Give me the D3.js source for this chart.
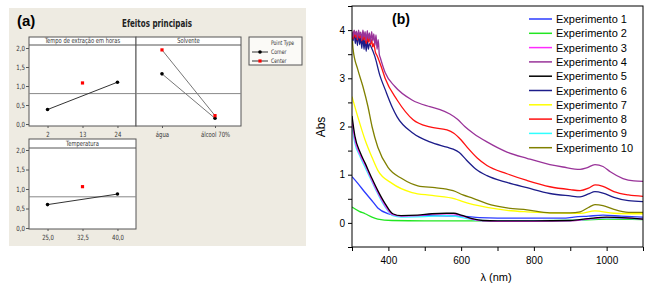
<!DOCTYPE html>
<html>
<head>
<meta charset="utf-8">
<script src="https://cdn.jsdelivr.net/npm/d3@7"></script>
<style>
  body { margin: 0; background: #fff; }
  .narrow { font-family: "DejaVu Sans Condensed", "DejaVu Sans", sans-serif; font-stretch: condensed; }
  .arial { font-family: "Liberation Sans", Arial, sans-serif; }
</style>
</head>
<body>
<svg id="chart" width="649" height="291"></svg>
<script>
// ---- panel (a) data: main effects plot ----
const tituloA = 'Efeitos principais';
const mediaGeral = 0.8;
const yTicksA = [0, 0.5, 1, 1.5, 2];
const niveisTempo = ['2', '13', '24'];
const cornerTempo = [0.38, null, 1.1];
const centerTempo = [null, 1.08, null];
const niveisSolv = ['água', 'álcool 70%'];
const cornerSolv = [1.32, 0.15];
const centerSolv = [1.95, 0.22];
const niveisTemp = ['25,0', '32,5', '40,0'];
const cornerTemp = [0.6, null, 0.87];
const centerTemp = [null, 1.06, null];

// ---- panel (b) data: absorption spectra (lambda nm, Abs) ----
const exp1 = [[300,0.96],[316,0.82],[336,0.63],[355,0.46],[371,0.31],[399,0.19],[426,0.15],[500,0.15],[600,0.14],[650,0.11],[700,0.1],[800,0.1],[880,0.1],[910,0.12],[950,0.14],[990,0.16],[1040,0.14],[1100,0.12]];
const exp2 = [[300,0.33],[320,0.24],[336,0.19],[355,0.12],[371,0.08],[410,0.05],[500,0.04],[700,0.04],[900,0.05],[1000,0.08],[1100,0.07]];
const exp3 = [[300,2.12],[308,1.72],[322,1.42],[336,1.2],[355,0.88],[371,0.63],[391,0.36],[412,0.17],[435,0.14],[480,0.15],[520,0.18],[560,0.19],[580,0.19],[600,0.15],[630,0.08],[660,0.04],[700,0.03],[800,0.03],[900,0.04],[950,0.08],[1000,0.11],[1100,0.08]];
const exp4 = [[300,3.97],[303,3.86],[306,4.0],[309,3.9],[312,3.98],[315,3.83],[318,4.0],[321,3.88],[324,3.96],[327,3.8],[330,4.0],[333,3.85],[336,3.97],[339,3.78],[342,3.99],[345,3.82],[348,3.94],[351,3.74],[354,3.97],[357,3.78],[360,3.92],[363,3.68],[366,3.9],[369,3.6],[372,3.8],[375,3.5],[378,3.42],[391,3.12],[418,2.83],[465,2.55],[514,2.41],[542,2.35],[569,2.26],[590,2.15],[610,2.0],[635,1.85],[671,1.68],[726,1.47],[781,1.34],[844,1.21],[880,1.16],[927,1.11],[945,1.14],[968,1.21],[990,1.17],[1010,1.06],[1045,0.92],[1075,0.87],[1100,0.86]];
const exp5 = [[300,2.22],[308,1.8],[322,1.47],[336,1.24],[355,0.92],[371,0.67],[391,0.4],[412,0.19],[435,0.15],[480,0.16],[520,0.19],[560,0.2],[580,0.2],[600,0.16],[630,0.09],[660,0.05],[700,0.04],[800,0.04],[900,0.05],[950,0.09],[1000,0.12],[1100,0.08]];
const exp6 = [[300,3.93],[303,3.78],[306,3.97],[309,3.72],[312,3.9],[315,3.68],[318,3.95],[321,3.7],[324,3.86],[327,3.62],[330,3.9],[333,3.6],[336,3.84],[339,3.56],[342,3.8],[345,3.6],[348,3.72],[352,3.66],[363,3.45],[377,3.05],[391,2.77],[410,2.41],[424,2.2],[468,1.86],[514,1.68],[561,1.57],[578,1.53],[595,1.46],[615,1.3],[640,1.12],[671,0.98],[726,0.84],[781,0.73],[844,0.61],[900,0.56],[927,0.54],[950,0.6],[968,0.65],[990,0.62],[1020,0.53],[1060,0.46],[1100,0.44]];
const exp7 = [[300,2.62],[316,2.2],[336,1.72],[355,1.36],[371,1.09],[410,0.82],[465,0.63],[520,0.57],[583,0.5],[605,0.44],[671,0.32],[726,0.26],[781,0.23],[844,0.21],[927,0.2],[968,0.25],[1020,0.2],[1100,0.19]];
const exp8 = [[300,3.95],[303,3.82],[306,3.98],[309,3.85],[312,3.93],[315,3.8],[318,3.97],[321,3.84],[324,3.9],[327,3.78],[330,3.95],[333,3.8],[336,3.88],[339,3.72],[342,3.9],[345,3.75],[348,3.85],[351,3.7],[354,3.8],[357,3.65],[360,3.72],[364,3.55],[369,3.47],[380,3.25],[391,3.0],[424,2.55],[468,2.14],[514,1.99],[561,1.93],[580,1.86],[600,1.72],[620,1.54],[645,1.34],[671,1.19],[726,1.02],[781,0.88],[844,0.75],[900,0.69],[927,0.67],[950,0.72],[968,0.79],[990,0.76],[1020,0.65],[1060,0.58],[1100,0.55]];
const exp9 = [[300,2.0],[308,1.65],[322,1.38],[336,1.15],[355,0.85],[371,0.6],[391,0.33],[412,0.15],[435,0.12],[500,0.13],[560,0.15],[610,0.1],[650,0.05],[700,0.04],[900,0.05],[1000,0.1],[1100,0.08]];
const exp10 = [[300,3.95],[303,3.6],[316,3.18],[330,2.83],[344,2.41],[355,2.0],[371,1.57],[399,1.15],[437,0.92],[481,0.77],[528,0.73],[560,0.7],[578,0.67],[605,0.58],[633,0.51],[671,0.4],[726,0.31],[781,0.27],[844,0.21],[900,0.21],[927,0.23],[950,0.32],[968,0.38],[990,0.36],[1020,0.28],[1060,0.22],[1100,0.22]];

const nomes = ['Experimento 1','Experimento 2','Experimento 3','Experimento 4','Experimento 5',
               'Experimento 6','Experimento 7','Experimento 8','Experimento 9','Experimento 10'];
const cores = ['#2b3bff','#22e622','#ff2bff','#993399','#000000',
               '#1c1c8a','#ffff00','#ff1010','#30ffff','#808000'];
const espectros = [exp1, exp2, exp3, exp4, exp5, exp6, exp7, exp8, exp9, exp10];
const ordemDesenho = [0, 1, 8, 2, 4, 6, 9, 5, 7, 3];
const xTicksB = [300, 400, 500, 600, 700, 800, 900, 1000, 1100];
const yTicksB = [-0.5, 0, 0.5, 1, 1.5, 2, 2.5, 3, 3.5, 4, 4.5];

const svg = d3.select('#chart');

// squeeze the condensed text like the narrow Minitab font
const squeeze = (sel, k) => sel.each(function () {
  const w = this.getComputedTextLength();
  d3.select(this).attr('textLength', w * k).attr('lengthAdjust', 'spacingAndGlyphs');
});

// ================= panel (a) =================
const ga = svg.append('g');
ga.append('rect')
  .attr('x', 9).attr('y', 8).attr('width', 297).attr('height', 238)
  .attr('fill', '#eeebe2');

ga.append('text')
  .attr('class', 'arial')
  .attr('x', 17).attr('y', 26)
  .attr('font-size', 15).attr('font-weight', 'bold')
  .text('(a)');

ga.append('text')
  .attr('class', 'narrow')
  .attr('x', 157).attr('y', 27)
  .attr('text-anchor', 'middle')
  .attr('font-size', 10.5).attr('font-weight', 'bold')
  .attr('fill', '#222')
  .text(tituloA)
  .attr('textLength', 70).attr('lengthAdjust', 'spacingAndGlyphs');

const drawFactor = (cfg) => {
  const g = ga.append('g');
  const x = d3.scalePoint().domain(cfg.niveis).range([cfg.left, cfg.right]).padding(cfg.pad);
  const y = d3.scaleLinear().domain([0, 2]).range([cfg.y0, cfg.y2]);

  g.append('rect')
    .attr('x', cfg.left).attr('y', cfg.headTop)
    .attr('width', cfg.right - cfg.left).attr('height', cfg.bottom - cfg.headTop)
    .attr('fill', '#fff').attr('stroke', '#555').attr('stroke-width', 1);
  g.append('line')
    .attr('x1', cfg.left).attr('x2', cfg.right)
    .attr('y1', cfg.plotTop).attr('y2', cfg.plotTop)
    .attr('stroke', '#555');
  g.append('text')
    .attr('class', 'narrow')
    .attr('x', (cfg.left + cfg.right) / 2).attr('y', cfg.plotTop - 1.8)
    .attr('text-anchor', 'middle').attr('font-size', 7.2).attr('fill', '#333')
    .text(cfg.titulo)
    .call(squeeze, 0.8);

  // overall mean reference line
  g.append('line')
    .attr('x1', cfg.left).attr('x2', cfg.right)
    .attr('y1', y(mediaGeral)).attr('y2', y(mediaGeral))
    .attr('stroke', '#888');

  if (cfg.yAxis) {
    const yAxis = d3.axisLeft(y).tickValues(yTicksA).tickSize(3).tickPadding(1)
      .tickFormat(d => d3.format('.1f')(d).replace('.', ','));
    const ya = g.append('g').attr('transform', `translate(${cfg.left},0)`).call(yAxis);
    ya.select('.domain').remove();
    ya.selectAll('line').attr('stroke', '#555');
    ya.selectAll('text').attr('class', 'narrow').attr('font-size', 7.2).attr('fill', '#333').call(squeeze, 0.85);
  }
  const xAxis = d3.axisBottom(x).tickSize(2).tickPadding(4);
  const xa = g.append('g').attr('transform', `translate(0,${cfg.bottom})`).call(xAxis);
  xa.select('.domain').remove();
  xa.selectAll('line').attr('stroke', '#555');
  xa.selectAll('text').attr('class', 'narrow').attr('font-size', 7.2).attr('fill', '#333').call(squeeze, 0.82);

  const pts = (vals) => cfg.niveis.map((n, i) => [n, vals[i]]).filter(d => d[1] !== null);
  const linha = d3.line().x(d => x(d[0])).y(d => y(d[1]));
  const corner = pts(cfg.corner), center = pts(cfg.center);
  if (corner.length > 1) g.append('path').attr('d', linha(corner)).attr('fill', 'none')
    .attr('stroke', cfg.corLinha).attr('stroke-width', 1);
  if (center.length > 1) g.append('path').attr('d', linha(center)).attr('fill', 'none')
    .attr('stroke', cfg.corLinha).attr('stroke-width', 1);
  g.selectAll('circle.c').data(corner).enter().append('circle')
    .attr('cx', d => x(d[0])).attr('cy', d => y(d[1])).attr('r', 1.8).attr('fill', '#000');
  g.selectAll('rect.ct').data(center).enter().append('rect')
    .attr('x', d => x(d[0]) - 1.6).attr('y', d => y(d[1]) - 1.6)
    .attr('width', 3.2).attr('height', 3.2).attr('fill', '#ff0000');
};

drawFactor({ titulo: 'Tempo de extração em horas', niveis: niveisTempo, corner: cornerTempo, center: centerTempo,
  left: 29, right: 136, headTop: 37, plotTop: 45, bottom: 126, y0: 124, y2: 48, pad: 0.53, yAxis: true, corLinha: '#333' });
drawFactor({ titulo: 'Solvente', niveis: niveisSolv, corner: cornerSolv, center: centerSolv,
  left: 136, right: 241, headTop: 37, plotTop: 45, bottom: 126, y0: 124, y2: 48, pad: 0.49, yAxis: false, corLinha: '#777' });
drawFactor({ titulo: 'Temperatura', niveis: niveisTemp, corner: cornerTemp, center: centerTemp,
  left: 29, right: 136, headTop: 139, plotTop: 148, bottom: 229, y0: 228, y2: 150, pad: 0.53, yAxis: true, corLinha: '#333' });

// legend (a)
const la = ga.append('g');
la.append('rect').attr('x', 249).attr('y', 37).attr('width', 53).attr('height', 28)
  .attr('fill', '#fbfaf7').attr('stroke', '#555');
la.append('text').attr('class', 'narrow').attr('x', 271).attr('y', 45)
  .attr('font-size', 6.2).attr('fill', '#333').text('Point Type').call(squeeze, 0.82);
[['Corner', '#000'], ['Center', '#ff0000']].forEach((d, i) => {
  const yy = 52 + i * 9;
  la.append('line').attr('x1', 252).attr('x2', 268).attr('y1', yy).attr('y2', yy).attr('stroke', '#333');
  if (i === 0) la.append('circle').attr('cx', 260).attr('cy', yy).attr('r', 1.8).attr('fill', d[1]);
  else la.append('rect').attr('x', 258.4).attr('y', yy - 1.6).attr('width', 3.2).attr('height', 3.2).attr('fill', d[1]);
  la.append('text').attr('class', 'narrow').attr('x', 271).attr('y', yy + 2.3)
    .attr('font-size', 6.2).attr('fill', '#333').text(d[0]).call(squeeze, 0.82);
});

// ================= panel (b) =================
const mb = { left: 352, right: 643, top: 6, bottom: 247 };
const gb = svg.append('g');
const xB = d3.scaleLinear().domain([300, 1100]).range([mb.left, mb.right]);
const yB = d3.scaleLinear().domain([-0.5, 4.5]).range([mb.bottom, mb.top]);

gb.append('clipPath').attr('id', 'clipB').append('rect')
  .attr('x', mb.left).attr('y', mb.top).attr('width', mb.right - mb.left).attr('height', mb.bottom - mb.top);

const linhaB = d3.line().x(d => xB(d[0])).y(d => yB(d[1])).curve(d3.curveMonotoneX);
gb.append('g').attr('clip-path', 'url(#clipB)')
  .selectAll('path').data(ordemDesenho).enter().append('path')
    .attr('d', i => linhaB(espectros[i]))
    .attr('fill', 'none')
    .attr('stroke', i => cores[i])
    .attr('stroke-width', 1.3)
    .attr('stroke-linejoin', 'round');

gb.append('rect')
  .attr('x', mb.left).attr('y', mb.top).attr('width', mb.right - mb.left).attr('height', mb.bottom - mb.top)
  .attr('fill', 'none').attr('stroke', '#000').attr('stroke-width', 1);

const xAxisB = d3.axisBottom(xB).tickValues(xTicksB).tickSize(4).tickPadding(6)
  .tickFormat(d => (d % 200 === 0 ? d : ''));
const xab = gb.append('g').attr('transform', `translate(0,${mb.bottom})`).call(xAxisB);
xab.select('.domain').remove();
xab.selectAll('text').attr('class', 'arial').attr('font-size', 10);

const yAxisB = d3.axisLeft(yB).tickValues(yTicksB).tickSize(4).tickPadding(3)
  .tickFormat(d => (Number.isInteger(d) && d >= 0 && d <= 4 ? d : ''));
const yab = gb.append('g').attr('transform', `translate(${mb.left},0)`).call(yAxisB);
yab.select('.domain').remove();
yab.selectAll('text').attr('class', 'arial').attr('font-size', 10);

gb.append('text').attr('class', 'arial')
  .attr('transform', 'translate(325,127) rotate(-90)')
  .attr('text-anchor', 'middle').attr('font-size', 12).text('Abs');
gb.append('text').attr('class', 'arial')
  .attr('x', 496).attr('y', 281).attr('text-anchor', 'middle').attr('font-size', 11).text('λ (nm)');
gb.append('text').attr('class', 'arial')
  .attr('x', 392).attr('y', 24).attr('font-size', 14).attr('font-weight', 'bold').text('(b)');

const legB = gb.append('g');
nomes.forEach((n, i) => {
  const yy = 19 + i * 14.3;
  legB.append('line').attr('x1', 529).attr('x2', 552).attr('y1', yy).attr('y2', yy)
    .attr('stroke', cores[i]).attr('stroke-width', 1.5);
  legB.append('text').attr('class', 'arial').attr('x', 556).attr('y', yy + 4)
    .attr('font-size', 11).text(n);
});
</script>
</body>
</html>
